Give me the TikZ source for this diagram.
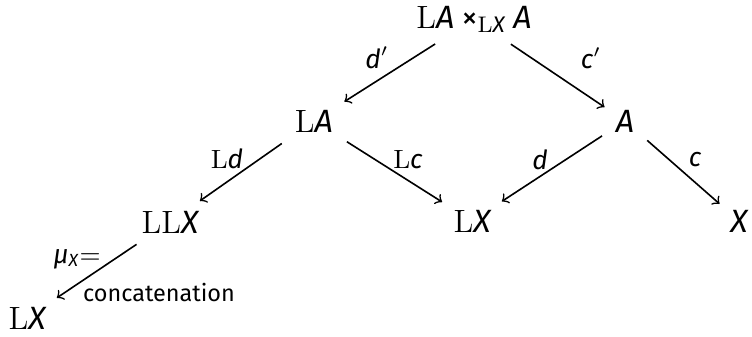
\documentclass[tikz,border=0pt]{standalone}
\usepackage{amsmath}
\usepackage{fontspec}
\setsansfont{Fira Sans}
\newcommand{\sv}[1]{\textsf{\itshape #1}}
\begin{document}
\begin{tikzpicture}[>=to, x=0.012cm, y=-0.012cm]
    \useasboundingbox (0,0) rectangle (752,336);
    \tikzset{obj/.style={anchor=base, inner sep=2pt, font=\fontsize{11}{13}\selectfont},
             lbl/.style={font=\small, inner sep=1pt},
             arr/.style={->, line width=0.55pt, shorten <=3pt, shorten >=2pt}}
    % Objekte
    \node[obj] (P)   at (474,28)  {$\mathrm{L}\sv{A}\mathbin{\textsf{×}}_{\mathrm{L}\sv{X}}\sv{A}$};
    \node[obj] (LA)  at (314,132) {$\mathrm{L}\sv{A}$};
    \node[obj] (A)   at (625,132) {$\sv{A}$};
    \node[obj] (LLX) at (170,233) {$\mathrm{LL}\sv{X}$};
    \node[obj] (LX)  at (472,232) {$\mathrm{L}\sv{X}$};
    \node[obj] (X)   at (739,232) {$\sv{X}$};
    \node[obj] (LXb) at (27,329)  {$\mathrm{L}\sv{X}$};
    % Pfeile
    \draw[arr] (P) -- (LA);
    \draw[arr] (P) -- (A);
    \draw[arr] (LA) -- (LLX);
    \draw[arr] (LA) -- (LX);
    \draw[arr] (A) -- (LX);
    \draw[arr] (A) -- (X);
    \draw[arr] (LLX) -- (LXb);
    % Beschriftungen
    \node[lbl] (dp)  at (377,58)  {$\sv{d}'$};
    \node[lbl] (cp)  at (591,58)  {$\sv{c}'$};
    \node[lbl] (Ld)  at (227,159) {$\mathrm{L}\sv{d}$};
    \node[lbl] (Lc)  at (408,160) {$\mathrm{L}\sv{c}$};
    \node[lbl] (d)   at (540,160) {$\sv{d}$};
    \node[lbl] (c)   at (695,160) {$\sv{c}$};
    \node[lbl] (mu)  at (77,259)  {\sv{μ}$_{\sv{X}}$=};
    \node[lbl, font=\fontsize{8}{10}\selectfont\sffamily] (cat) at (159,292) {concatenation};
\end{tikzpicture}
\end{document}
